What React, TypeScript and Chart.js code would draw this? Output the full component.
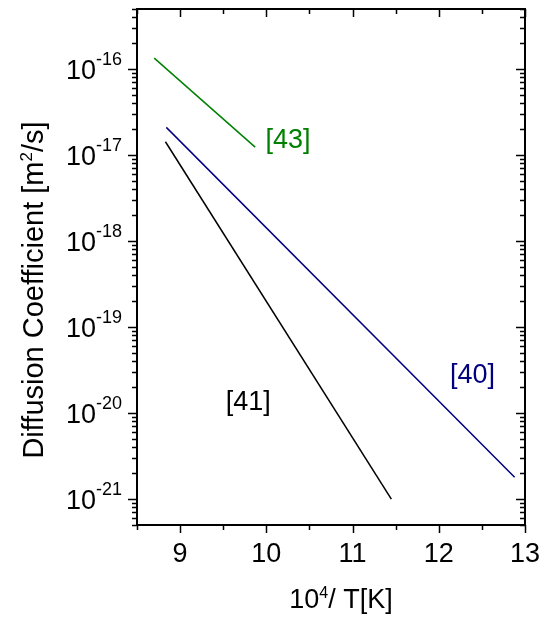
import React, { useEffect, useRef } from "react";
import { Chart, registerables } from "chart.js";

Chart.register(...registerables);

// Axis ranges
const xRange = [8.5, 13];
const yRange = [5e-22, 5e-16];

// Tick labels
const xTickValues = [9, 10, 11, 12, 13];
const yTickExponents = [-16, -17, -18, -19, -20, -21];

// Arrhenius lines (10^4/T, D in m^2/s), end points of each literature fit
const ref43X = [8.7, 9.87];
const ref43Y = [1.34e-16, 1.24e-17];
const ref40X = [8.84, 12.88];
const ref40Y = [2.1e-17, 1.8e-21];
const ref41X = [8.83, 11.45];
const ref41Y = [1.43e-17, 1.0e-21];

const seriesNames = ["[43]", "[40]", "[41]"];
const seriesColors = ["#008000", "#000080", "#000000"];

const FONT = '"Liberation Sans", Arial, Helvetica, sans-serif';

const toPoints = (xs: number[], ys: number[]) => xs.map((x, i) => ({ x, y: ys[i] }));

const framePlugin = {
  id: "originFrame",
  afterDraw(chart: any) {
    const { ctx, chartArea: a } = chart;
    const xs = chart.scales.x;
    const ys = chart.scales.y;
    ctx.save();
    ctx.strokeStyle = "#000";
    ctx.fillStyle = "#000";

    // frame
    ctx.lineWidth = 2;
    ctx.strokeRect(a.left, a.top, a.right - a.left, a.bottom - a.top);

    // y ticks (log, minor at 2..9)
    ctx.lineWidth = 1.5;
    ctx.beginPath();
    for (let e = -23; e <= -15; e++) {
      for (let k = 1; k <= 9; k++) {
        const v = k * Math.pow(10, e);
        if (v < yRange[0] * 0.999 || v > yRange[1] * 1.001) continue;
        const py = Math.round(ys.getPixelForValue(v)) + 0.5;
        const len = k === 1 ? 9 : 5;
        ctx.moveTo(a.left - len, py);
        ctx.lineTo(a.left, py);
        ctx.moveTo(a.right - len, py);
        ctx.lineTo(a.right, py);
      }
    }
    // x ticks (major at integers, minor at halves)
    for (let v = xRange[0]; v <= xRange[1] + 1e-9; v += 0.5) {
      const px = Math.round(xs.getPixelForValue(v)) + 0.5;
      const major = Math.abs(v - Math.round(v)) < 1e-6;
      const len = major ? 8 : 5;
      ctx.moveTo(px, a.bottom);
      ctx.lineTo(px, a.bottom + len);
      ctx.moveTo(px, a.top);
      ctx.lineTo(px, a.top + len);
    }
    ctx.stroke();

    // y tick labels: 10^n
    ctx.textBaseline = "alphabetic";
    for (const e of yTickExponents) {
      const py = ys.getPixelForValue(Math.pow(10, e));
      const right = a.left - 15;
      const sup = String(e);
      ctx.font = `18px ${FONT}`;
      const w = ctx.measureText(sup).width;
      ctx.textAlign = "right";
      ctx.fillText(sup, right, py - 4);
      ctx.font = `27px ${FONT}`;
      ctx.fillText("10", right - w, py + 10);
    }

    // x tick labels
    ctx.font = `27px ${FONT}`;
    ctx.textAlign = "center";
    for (const v of xTickValues) {
      ctx.fillText(String(v), xs.getPixelForValue(v), a.bottom + 37);
    }

    // mixed-size text helper (base + superscript + rest)
    const drawSup = (
      parts: { t: string; sup?: boolean }[],
      cx: number,
      base: number,
      size: number,
      supSize: number,
      rise: number
    ) => {
      const widths = parts.map((p) => {
        ctx.font = `${p.sup ? supSize : size}px ${FONT}`;
        return ctx.measureText(p.t).width;
      });
      const total = widths.reduce((s, w) => s + w, 0);
      let x0 = cx - total / 2;
      ctx.textAlign = "left";
      parts.forEach((p, i) => {
        ctx.font = `${p.sup ? supSize : size}px ${FONT}`;
        ctx.fillText(p.t, x0, p.sup ? base - rise : base);
        x0 += widths[i];
      });
    };

    // x axis title
    drawSup(
      [{ t: "10" }, { t: "4", sup: true }, { t: "/ T[K]" }],
      (a.left + a.right) / 2 + 10,
      608,
      27,
      16,
      10
    );

    // y axis title
    ctx.save();
    ctx.translate(43, (a.top + a.bottom) / 2 + 23);
    ctx.rotate(-Math.PI / 2);
    drawSup(
      [{ t: "Diffusion Coefficient [m" }, { t: "2", sup: true }, { t: "/s]" }],
      0,
      0,
      29,
      17,
      11
    );
    ctx.restore();

    // series labels
    ctx.font = `27px ${FONT}`;
    ctx.textAlign = "left";
    const labelSpots = [
      { x: 9.99, y: Math.pow(10, -16.92) },
      { x: 12.13, y: Math.pow(10, -19.65) },
      { x: 9.53, y: Math.pow(10, -19.965) },
    ];
    labelSpots.forEach((s, i) => {
      ctx.fillStyle = seriesColors[i];
      ctx.fillText(seriesNames[i], xs.getPixelForValue(s.x), ys.getPixelForValue(s.y));
    });

    ctx.restore();
  },
};

export default function App() {
  const canvasRef = useRef<HTMLCanvasElement | null>(null);

  useEffect(() => {
    const canvas = canvasRef.current;
    if (!canvas) return;
    const chart = new Chart(canvas, {
      type: "line",
      data: {
        datasets: [
          { label: seriesNames[0], data: toPoints(ref43X, ref43Y), borderColor: seriesColors[0] },
          { label: seriesNames[1], data: toPoints(ref40X, ref40Y), borderColor: seriesColors[1] },
          { label: seriesNames[2], data: toPoints(ref41X, ref41Y), borderColor: seriesColors[2] },
        ].map((d) => ({ ...d, borderWidth: 1.5, pointRadius: 0, fill: false, tension: 0 })),
      },
      options: {
        responsive: false,
        animation: false,
        devicePixelRatio: 1,
        layout: { padding: { left: 137, top: 9, right: 17, bottom: 92 } },
        plugins: { legend: { display: false }, tooltip: { enabled: false } },
        scales: {
          x: { type: "linear", min: xRange[0], max: xRange[1], display: false },
          y: { type: "logarithmic", min: yRange[0], max: yRange[1], display: false },
        },
      },
      plugins: [framePlugin],
    });
    return () => chart.destroy();
  }, []);

  return (
    <div style={{ position: "fixed", left: 0, top: 0, width: 542, height: 617, background: "#fff" }}>
      <canvas ref={canvasRef} width={542} height={617} />
    </div>
  );
}
